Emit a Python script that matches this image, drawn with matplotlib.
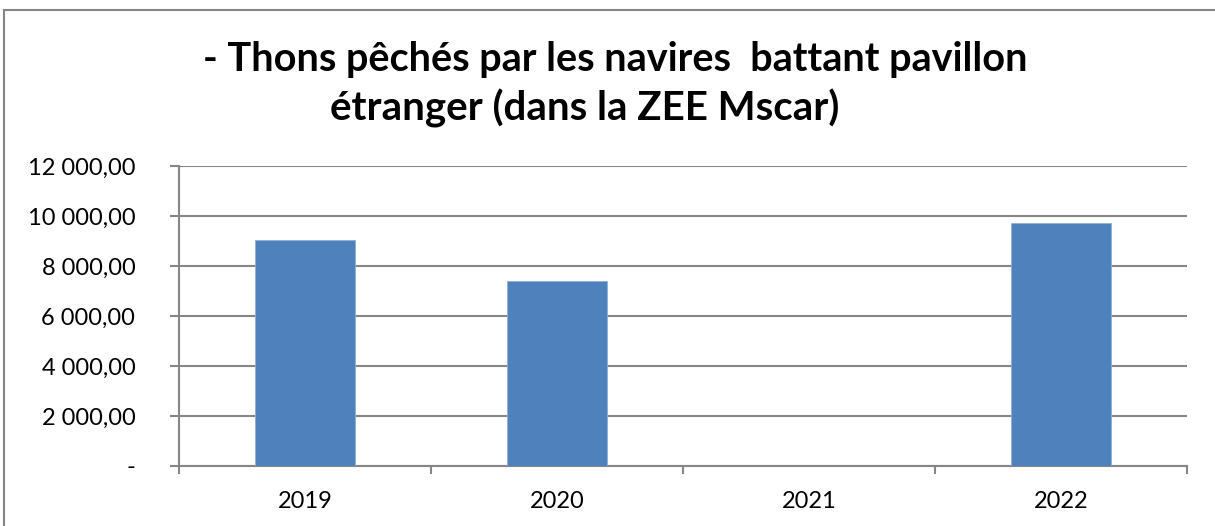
import matplotlib
matplotlib.use("Agg")
import matplotlib.pyplot as plt
from matplotlib.lines import Line2D
from matplotlib.ticker import FuncFormatter, FixedLocator
import numpy as np

plt.rcParams['font.family'] = ['Lato', 'DejaVu Sans']

annees = ['2019', '2020', '2021', '2022']
tonnes = [9050, 7410, 0, 9710]
titre_1 = "- Thons pêchés par les navires  battant pavillon"
titre_2 = "étranger (dans la ZEE Mscar)"

GRIS = '#868686'
BLEU = '#4F81BD'


def fmt_fr(v, pos):
    if v == 0:
        return '-'
    return '{:,.2f}'.format(v).replace(',', ' ').replace('.', ',')


fig = plt.figure(figsize=(12.15, 5.26), dpi=100)
ax = fig.add_axes([179 / 1215, 60 / 526, 1008 / 1215, 300 / 526])

x = np.arange(len(annees))
ax.bar(x, tonnes, width=0.4, color=BLEU, edgecolor='#8fb0d8', linewidth=0.6, zorder=3)

ax.set_xlim(-0.5, len(annees) - 0.5)
ax.set_ylim(0, 12000)
ax.set_yticks(np.arange(0, 12001, 2000))
ax.yaxis.set_major_formatter(FuncFormatter(fmt_fr))
ax.grid(axis='y', color=GRIS, linewidth=1.5, zorder=0)

# ticks x entre les categories, libelles au centre
ax.xaxis.set_major_locator(FixedLocator(np.arange(-0.5, len(annees), 1.0)))
ax.xaxis.set_major_formatter(FuncFormatter(lambda v, p: ''))
ax.xaxis.set_minor_locator(FixedLocator(x))
ax.set_xticklabels(annees, minor=True)
ax.tick_params(axis='x', which='major', length=6, width=1.5, color=GRIS)
ax.tick_params(axis='x', which='minor', length=0, pad=18, labelsize=17)
ax.tick_params(axis='y', length=6.5, width=1.5, color=GRIS, pad=25, labelsize=17)

for s in ['top', 'right']:
    ax.spines[s].set_visible(False)
for s in ['left', 'bottom']:
    ax.spines[s].set_color(GRIS)
    ax.spines[s].set_linewidth(1.5)

fig.text(615 / 1215, 1 - 71 / 526, titre_1, ha='center', va='baseline',
         fontsize=28.5, fontweight='bold')
fig.text(585 / 1215, 1 - 121 / 526, titre_2, ha='center', va='baseline',
         fontsize=29, fontweight='bold')

# cadre du graphique
fig.add_artist(Line2D([4 / 1215, 4 / 1215], [0, 1 - 10 / 526], color=GRIS, linewidth=1.5))
fig.add_artist(Line2D([4 / 1215, 1], [1 - 10 / 526, 1 - 10 / 526], color=GRIS, linewidth=1.5))

fig.savefig('out.png', dpi=100)
